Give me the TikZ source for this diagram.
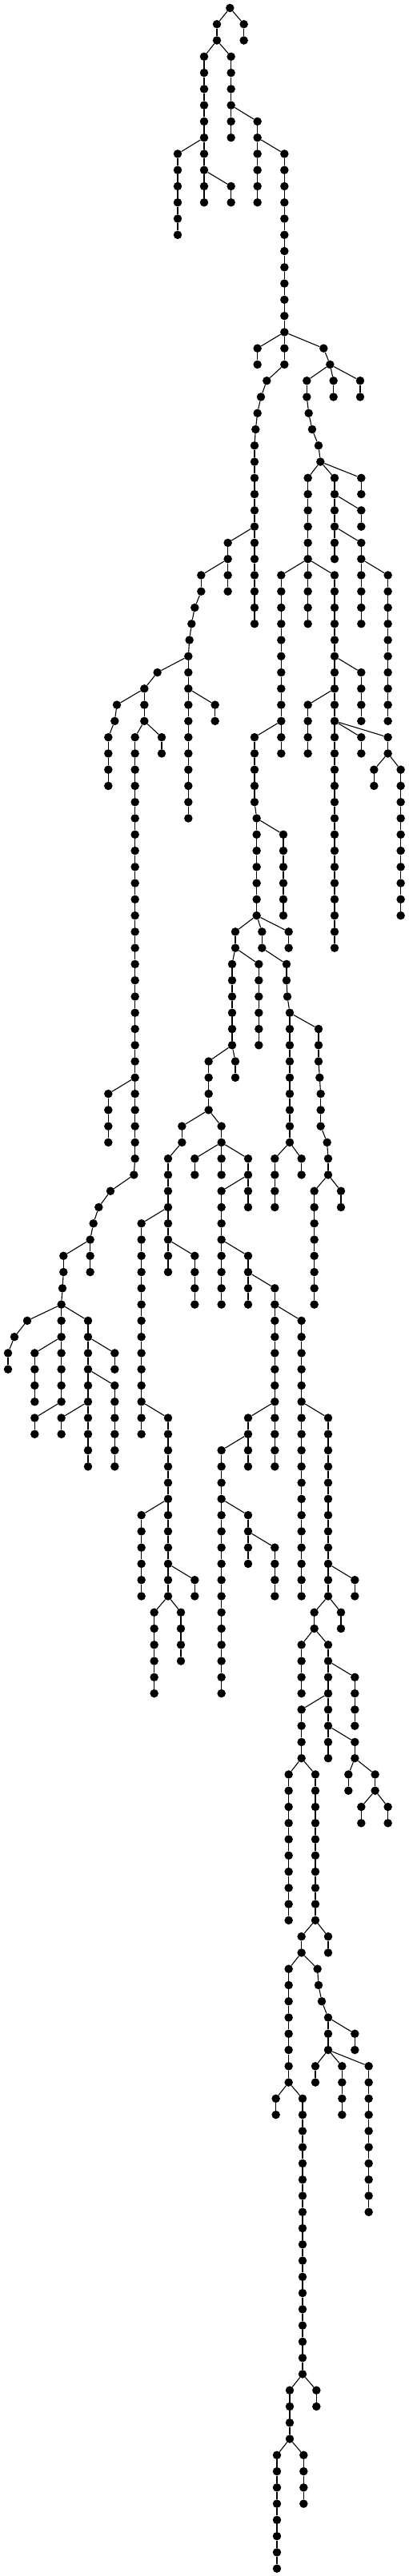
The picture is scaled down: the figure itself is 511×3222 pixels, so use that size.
\documentclass[tikz,border=0pt]{standalone}
\begin{document}
\begin{tikzpicture}
\tikzset{nd/.style={circle,fill=black,inner sep=0pt,minimum size=10.5pt},
 lnk/.style={line width=1.1pt,black}}
\useasboundingbox (0pt,0pt) rectangle (511pt,-3222pt);
\newcommand\K[4]{\node[nd] (n#1-#2) at (#1,#2) {}; \draw[lnk] (n#3-#4) -- (n#1-#2);}
\newcommand\Ch[3]{\foreach \l in {#2,...,#3}{\pgfmathtruncatemacro\pl{\l-1}\node[nd] (n#1-\l) at (#1,\l) {}; \draw[lnk] (n#1-\pl) -- (n#1-\l);}}
\begin{scope}[x=0.33333pt,y=-20.27pt,shift={(0pt,-10pt)}]
\node[nd] (n862-0) at (862,0) {};
\K{813}{1}{862}{0}
\K{914}{1}{862}{0}
\K{813}{2}{813}{1}
\K{914}{2}{914}{1}
\K{765}{3}{813}{2}
\K{866}{3}{813}{2}
\Ch{765}{4}{12}
\K{666}{9}{765}{8}
\Ch{666}{10}{14}
\K{866}{11}{765}{10}
\Ch{866}{12}{12}
\Ch{866}{4}{8}
\K{965}{7}{866}{6}
\Ch{965}{8}{12}
\K{1066}{9}{965}{8}
\Ch{1066}{10}{22}
\K{965}{21}{1066}{20}
\Ch{965}{22}{22}
\K{1213}{21}{1066}{20}
\K{1237}{22}{1213}{21}
\K{1000}{23}{1066}{22}
\K{978}{24}{1000}{23}
\K{965}{25}{978}{24}
\K{958}{26}{965}{25}
\K{954}{27}{958}{26}
\Ch{954}{28}{38}
\K{854}{33}{954}{32}
\Ch{854}{34}{36}
\K{754}{35}{854}{34}
\Ch{754}{36}{36}
\K{730}{37}{754}{36}
\K{718}{38}{730}{37}
\K{710}{39}{718}{38}
\K{706}{40}{710}{39}
\Ch{706}{41}{50}
\K{590}{41}{706}{40}
\K{541}{42}{590}{41}
\Ch{541}{43}{44}
\K{438}{43}{541}{42}
\K{430}{44}{438}{43}
\K{406}{45}{430}{44}
\Ch{406}{46}{48}
\K{506}{45}{541}{44}
\Ch{506}{46}{71}
\K{606}{45}{541}{44}
\Ch{606}{46}{46}
\K{806}{43}{706}{42}
\Ch{806}{44}{44}
% right part
\K{1150}{23}{1237}{22}
\K{1250}{23}{1237}{22}
\Ch{1250}{24}{24}
\K{1350}{23}{1237}{22}
\Ch{1350}{24}{24}
\Ch{1150}{24}{24}
\K{1157}{25}{1150}{24}
\K{1170}{26}{1157}{25}
\K{1194}{27}{1170}{26}
\K{1201}{28}{1194}{27}
\K{1154}{29}{1201}{28}
\K{1254}{29}{1201}{28}
\K{1354}{29}{1201}{28}
\Ch{1154}{30}{38}
\Ch{1254}{30}{34}
\Ch{1354}{30}{30}
\K{1354}{31}{1254}{30}
\Ch{1354}{32}{32}
\K{1354}{33}{1254}{32}
\Ch{1354}{34}{38}
\K{1454}{35}{1354}{34}
\Ch{1454}{36}{44}
\K{1054}{35}{1154}{34}
\Ch{1054}{36}{46}
\K{1254}{35}{1154}{34}
\Ch{1254}{36}{58}
\K{1354}{41}{1254}{40}
\Ch{1354}{42}{44}
\K{1154}{43}{1254}{42}
\Ch{1154}{44}{46}
\K{1354}{45}{1254}{44}
\Ch{1354}{46}{46}
\K{1454}{45}{1254}{44}
\Ch{1454}{46}{46}
\K{1402}{47}{1454}{46}
\Ch{1402}{48}{48}
\K{1502}{47}{1454}{46}
\Ch{1502}{48}{56}
\K{954}{45}{1054}{44}
\Ch{954}{46}{49}
\K{962}{50}{954}{49}
\Ch{962}{51}{56}
\K{1062}{51}{962}{50}
\Ch{1062}{52}{56}
\K{882}{57}{962}{56}
\Ch{882}{58}{58}
\K{982}{57}{962}{56}
\Ch{982}{58}{58}
\K{1082}{57}{962}{56}
\Ch{1082}{58}{58}
\K{870}{59}{882}{58}
\Ch{870}{60}{64}
\K{970}{59}{882}{58}
\Ch{970}{60}{64}
\K{782}{65}{870}{64}
\Ch{782}{66}{68}
\K{882}{65}{870}{64}
\Ch{882}{66}{66}
\K{1074}{59}{982}{58}
\Ch{1074}{60}{60}
\K{1077}{61}{1074}{60}
\K{1086}{62}{1077}{61}
\Ch{1086}{63}{70}
\K{1194}{63}{1086}{62}
\Ch{1194}{64}{65}
\K{1198}{66}{1194}{65}
\K{1202}{67}{1198}{66}
\Ch{1202}{68}{69}
\K{1226}{70}{1202}{69}
\K{1230}{71}{1226}{70}
\Ch{1230}{72}{72}
\K{1178}{73}{1230}{72}
\Ch{1178}{74}{80}
\K{1278}{73}{1230}{72}
\Ch{1278}{74}{74}
\K{1030}{71}{1086}{70}
\Ch{1030}{72}{74}
\K{1130}{71}{1086}{70}
\Ch{1130}{72}{72}
% left lower
\K{406}{67}{506}{66}
\Ch{406}{68}{70}
\K{502}{72}{506}{71}
\K{414}{73}{502}{72}
\K{370}{74}{414}{73}
\K{350}{75}{370}{74}
\K{338}{76}{350}{75}
\Ch{338}{77}{78}
\K{238}{77}{338}{76}
\Ch{238}{78}{78}
\K{234}{79}{238}{78}
\K{230}{80}{234}{79}
\K{102}{81}{230}{80}
\K{54}{82}{102}{81}
\K{30}{83}{54}{82}
\Ch{30}{84}{84}
\Ch{230}{81}{86}
\K{130}{83}{230}{82}
\Ch{130}{84}{86}
\K{130}{87}{230}{86}
\Ch{130}{88}{88}
\K{330}{81}{230}{80}
\Ch{330}{82}{90}
\K{430}{83}{330}{82}
\Ch{430}{84}{84}
\K{430}{85}{330}{84}
\Ch{430}{86}{90}
\K{230}{87}{330}{86}
\Ch{230}{88}{88}
% middle
\K{682}{69}{782}{68}
\Ch{682}{70}{70}
\K{630}{71}{682}{70}
\Ch{630}{72}{78}
\K{530}{75}{630}{74}
\Ch{530}{76}{88}
\K{730}{77}{630}{76}
\Ch{730}{78}{80}
\K{630}{87}{530}{86}
\Ch{630}{88}{98}
\K{530}{93}{630}{92}
\Ch{530}{94}{98}
\K{730}{97}{630}{96}
\Ch{730}{98}{98}
\K{578}{99}{630}{98}
\Ch{578}{100}{104}
\K{678}{99}{630}{98}
\Ch{678}{100}{102}
\K{830}{69}{782}{68}
\Ch{830}{70}{72}
\K{730}{71}{830}{70}
\Ch{730}{72}{72}
\K{930}{71}{830}{70}
\Ch{930}{72}{74}
\K{830}{73}{930}{72}
\Ch{830}{74}{80}
\K{930}{77}{830}{76}
\Ch{930}{78}{80}
\K{1030}{79}{930}{78}
\Ch{1030}{80}{90}
\K{1130}{81}{1030}{80}
\Ch{1130}{82}{98}
\K{930}{87}{1030}{86}
\Ch{930}{88}{90}
\K{830}{89}{930}{88}
\Ch{830}{90}{104}
\K{930}{93}{830}{92}
\Ch{930}{94}{96}
\K{1030}{95}{930}{94}
\Ch{1030}{96}{98}
\K{1230}{87}{1130}{86}
\Ch{1230}{88}{98}
\K{1330}{97}{1230}{96}
\Ch{1330}{98}{98}
\K{1178}{99}{1230}{98}
\Ch{1178}{100}{100}
\K{1278}{99}{1230}{98}
\Ch{1278}{100}{100}
\K{1130}{101}{1178}{100}
\Ch{1130}{102}{104}
\K{1230}{101}{1178}{100}
\Ch{1230}{102}{108}
\K{1330}{103}{1230}{102}
\Ch{1330}{104}{106}
\K{1130}{105}{1230}{104}
\Ch{1130}{106}{108}
\K{1330}{107}{1230}{106}
\Ch{1330}{108}{108}
\K{1306}{109}{1330}{108}
\Ch{1306}{110}{110}
\K{1406}{109}{1330}{108}
\Ch{1406}{110}{110}
\K{1354}{111}{1406}{110}
\Ch{1354}{112}{112}
\K{1454}{111}{1406}{110}
\Ch{1454}{112}{112}
\K{1082}{109}{1130}{108}
\Ch{1082}{110}{118}
\K{1182}{109}{1130}{108}
\Ch{1182}{110}{118}
\K{1130}{119}{1182}{118}
\Ch{1130}{120}{120}
\K{1230}{119}{1182}{118}
\Ch{1230}{120}{120}
\K{1082}{121}{1130}{120}
\Ch{1082}{122}{128}
\K{1190}{121}{1130}{120}
\K{1194}{122}{1190}{121}
\K{1206}{123}{1194}{122}
\K{1230}{124}{1206}{123}
\Ch{1230}{125}{126}
\K{1330}{125}{1230}{124}
\Ch{1330}{126}{126}
\K{1182}{127}{1230}{126}
\Ch{1182}{128}{128}
\K{1282}{127}{1230}{126}
\Ch{1282}{128}{130}
\K{1382}{127}{1230}{126}
\Ch{1382}{128}{136}
\K{1034}{129}{1082}{128}
\Ch{1034}{130}{130}
\K{1134}{129}{1082}{128}
\Ch{1134}{130}{146}
\K{1086}{147}{1134}{146}
\Ch{1086}{148}{150}
\K{1186}{147}{1134}{146}
\Ch{1186}{148}{148}
\K{1038}{151}{1086}{150}
\Ch{1038}{152}{158}
\K{1138}{151}{1086}{150}
\Ch{1138}{152}{154}
\end{scope}
\end{tikzpicture}
\end{document}
